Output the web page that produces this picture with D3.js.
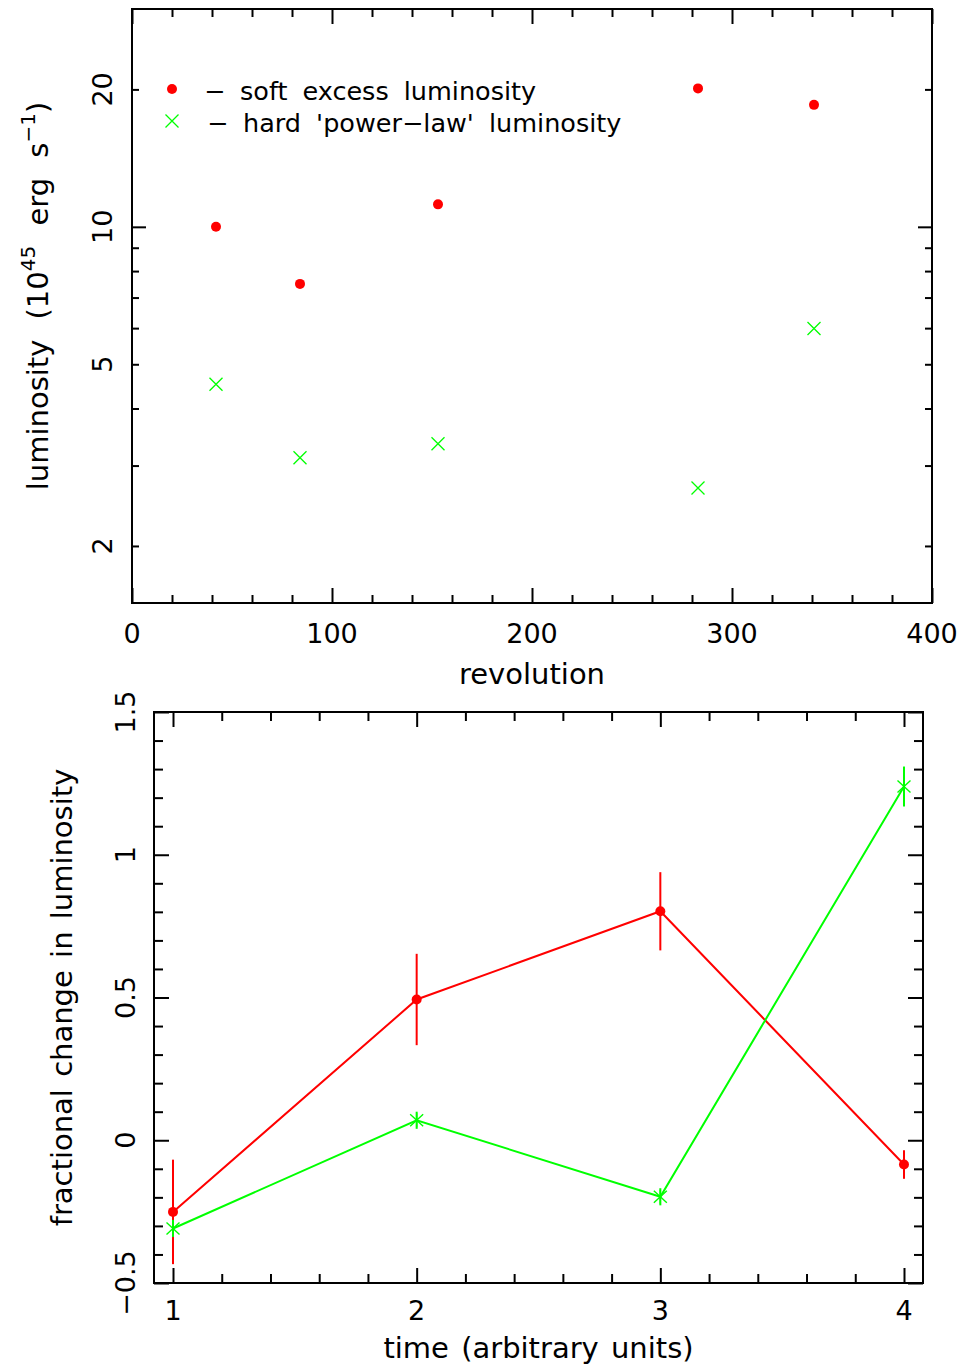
<!DOCTYPE html>
<html>
<head>
<meta charset="utf-8">
<script src="https://cdn.jsdelivr.net/npm/d3@7/dist/d3.min.js"></script>
<style>
  body { margin: 0; background: #fff; }
  svg { display: block; }
  text { font-family: "DejaVu Sans", sans-serif; font-size: 27px; fill: #000; }
  text.title { font-size: 29px; word-spacing: 3px; }
  text.legend { font-size: 25.5px; word-spacing: 7px; }
</style>
</head>
<body>
<svg id="chart" width="967" height="1372"></svg>
<script>
// ---- upper panel: luminosity against revolution ----
const revolutions = [42, 84, 153, 283, 341];
const softLum = [10.0, 7.5, 11.2, 20.1, 18.5];   // 10^45 erg/s
const hardLum = [4.52, 3.12, 3.35, 2.68, 5.99];  // 10^45 erg/s
const revTicks = [0, 100, 200, 300, 400];
const revMinor = d3.range(20, 400, 20).filter(v => v % 100 !== 0);
const lumLabelTicks = [2, 5, 10, 20];
const lumMajor = [10];
const lumMinor = [2, 3, 4, 5, 6, 7, 8, 9, 20];
const legendLabels = ["soft excess luminosity", "hard 'power\u2212law' luminosity"];

// ---- lower panel: fractional change against time ----
const times = [1, 2, 3, 4];
const softChange = [-0.251, 0.493, 0.802, -0.085];
const softErr = [0.183, 0.160, 0.137, 0.050];
const hardChange = [-0.309, 0.070, -0.198, 1.239];
const hardErr = [0.030, 0.030, 0.030, 0.070];
const timeTicks = [1, 2, 3, 4];
const timeMinor = [1.2, 1.4, 1.6, 1.8, 2.2, 2.4, 2.6, 2.8, 3.2, 3.4, 3.6, 3.8];
const fracTicks = [-0.5, 0, 0.5, 1, 1.5];
const fracMinor = d3.range(-4, 15).map(v => v / 10).filter(v => Math.abs(v * 2 - Math.round(v * 2)) > 1e-6);

const RED = "#ff0000";
const GREEN = "#00ff00";

const svg = d3.select("#chart");

// inward-pointing tick marks on one side of a frame
function tickMarks(g, axisFn, scale, values, len, transform) {
  g.append("g")
    .attr("transform", transform)
    .call(axisFn(scale).tickValues(values).tickSize(-len).tickFormat(""))
    .call(a => a.select(".domain").remove())
    .selectAll("line").attr("stroke", "#000").attr("stroke-width", 2);
}

function frame(g, x0, y0, x1, y1) {
  g.append("rect")
    .attr("x", x0).attr("y", y0)
    .attr("width", x1 - x0).attr("height", y1 - y0)
    .attr("fill", "none").attr("stroke", "#000").attr("stroke-width", 2);
}

function crossPath(s) {
  return `M${-s},${-s}L${s},${s}M${-s},${s}L${s},${-s}`;
}
function asteriskPath() {
  return "M0,-7L0,7M-6.5,-6L6.5,6M-6.5,6L6.5,-6";
}

// ================= upper panel =================
{
  const L = 132, R = 932, T = 9, B = 603;
  const x = d3.scaleLinear().domain([0, 400]).range([L, R]);
  const y = d3.scaleLog().domain([1.5, 30]).range([B, T]);
  const g = svg.append("g");

  tickMarks(g, d3.axisBottom, x, revTicks, 15, `translate(0,${B})`);
  tickMarks(g, d3.axisBottom, x, revMinor, 8, `translate(0,${B})`);
  tickMarks(g, d3.axisTop, x, revTicks, 15, `translate(0,${T})`);
  tickMarks(g, d3.axisTop, x, revMinor, 8, `translate(0,${T})`);
  tickMarks(g, d3.axisLeft, y, lumMajor, 14, `translate(${L},0)`);
  tickMarks(g, d3.axisLeft, y, lumMinor, 7, `translate(${L},0)`);
  tickMarks(g, d3.axisRight, y, lumMajor, 14, `translate(${R},0)`);
  tickMarks(g, d3.axisRight, y, lumMinor, 7, `translate(${R},0)`);
  frame(g, L, T, R, B);

  g.selectAll(".xl").data(revTicks).join("text")
    .attr("x", d => x(d)).attr("y", 643)
    .attr("text-anchor", "middle").text(d => d);
  g.selectAll(".yl").data(lumLabelTicks).join("text")
    .attr("transform", d => `translate(112,${y(d)}) rotate(-90)`)
    .attr("text-anchor", "middle").text(d => d);

  g.append("text").attr("class", "title")
    .attr("x", (L + R) / 2).attr("y", 684)
    .attr("text-anchor", "middle").text("revolution");

  const yt = g.append("text").attr("class", "title")
    .style("word-spacing", "11px")
    .attr("transform", `translate(48,${(T + B) / 2 - 10}) rotate(-90)`)
    .attr("text-anchor", "middle");
  yt.append("tspan").text("luminosity (10");
  yt.append("tspan").attr("dy", -13).style("font-size", "20px").text("45");
  yt.append("tspan").attr("dy", 13).text(" erg s");
  yt.append("tspan").attr("dy", -13).style("font-size", "20px").text("\u22121");
  yt.append("tspan").attr("dy", 13).text(")");

  // data
  g.selectAll(".soft").data(revolutions).join("circle")
    .attr("cx", d => x(d)).attr("cy", (d, i) => y(softLum[i]))
    .attr("r", 5).attr("fill", RED);
  g.selectAll(".hard").data(revolutions).join("path")
    .attr("transform", (d, i) => `translate(${x(d)},${y(hardLum[i])})`)
    .attr("d", crossPath(6.5)).attr("stroke", GREEN).attr("stroke-width", 1.3).attr("fill", "none");

  // legend
  const lg = g.append("g");
  lg.append("circle").attr("cx", 172).attr("cy", 89).attr("r", 5).attr("fill", RED);
  lg.append("path").attr("transform", "translate(172,121)").attr("d", crossPath(6.5))
    .attr("stroke", GREEN).attr("stroke-width", 1.3).attr("fill", "none");
  legendLabels.forEach((lab, i) => {
    const by = 100 + i * 32;
    lg.append("text").attr("class", "legend").attr("x", 204 + i * 3).attr("y", by).text("\u2212");
    lg.append("text").attr("class", "legend").attr("x", 240 + i * 3).attr("y", by).text(lab);
  });
}

// ================= lower panel =================
{
  const L = 154, R = 923, T = 712, B = 1283;
  const x = d3.scaleLinear().domain([0.922, 4.078]).range([L, R]);
  const y = d3.scaleLinear().domain([-0.5, 1.5]).range([B, T]);
  const g = svg.append("g");

  tickMarks(g, d3.axisBottom, x, timeTicks, 15, `translate(0,${B})`);
  tickMarks(g, d3.axisBottom, x, timeMinor, 9, `translate(0,${B})`);
  tickMarks(g, d3.axisTop, x, timeTicks, 15, `translate(0,${T})`);
  tickMarks(g, d3.axisTop, x, timeMinor, 9, `translate(0,${T})`);
  tickMarks(g, d3.axisLeft, y, fracTicks, 15, `translate(${L},0)`);
  tickMarks(g, d3.axisLeft, y, fracMinor, 9, `translate(${L},0)`);
  tickMarks(g, d3.axisRight, y, fracTicks, 15, `translate(${R},0)`);
  tickMarks(g, d3.axisRight, y, fracMinor, 9, `translate(${R},0)`);
  frame(g, L, T, R, B);

  g.selectAll(".xl").data(timeTicks).join("text")
    .attr("x", d => x(d)).attr("y", 1320)
    .attr("text-anchor", "middle").text(d => d);
  g.selectAll(".yl").data(fracTicks).join("text")
    .attr("transform", d => `translate(135,${y(d)}) rotate(-90)`)
    .attr("text-anchor", "middle")
    .text(d => d < 0 ? "\u2212" + Math.abs(d) : String(d));

  g.append("text").attr("class", "title")
    .attr("x", (L + R) / 2).attr("y", 1358)
    .attr("text-anchor", "middle").text("time (arbitrary units)");
  g.append("text").attr("class", "title")
    .attr("transform", `translate(72,${(T + B) / 2}) rotate(-90)`)
    .attr("text-anchor", "middle").text("fractional change in luminosity");

  const line = d3.line().x(d => x(d[0])).y(d => y(d[1]));
  const softPts = times.map((t, i) => [t, softChange[i]]);
  const hardPts = times.map((t, i) => [t, hardChange[i]]);

  // error bars
  g.selectAll(".serr").data(times).join("line")
    .attr("x1", d => x(d)).attr("x2", d => x(d))
    .attr("y1", (d, i) => y(softChange[i] - softErr[i]))
    .attr("y2", (d, i) => y(softChange[i] + softErr[i]))
    .attr("stroke", RED).attr("stroke-width", 2);
  g.selectAll(".herr").data(times).join("line")
    .attr("x1", d => x(d)).attr("x2", d => x(d))
    .attr("y1", (d, i) => y(hardChange[i] - hardErr[i]))
    .attr("y2", (d, i) => y(hardChange[i] + hardErr[i]))
    .attr("stroke", GREEN).attr("stroke-width", 2);

  g.append("path").attr("d", line(softPts)).attr("fill", "none")
    .attr("stroke", RED).attr("stroke-width", 2);
  g.append("path").attr("d", line(hardPts)).attr("fill", "none")
    .attr("stroke", GREEN).attr("stroke-width", 2);

  g.selectAll(".sdot").data(softPts).join("circle")
    .attr("cx", d => x(d[0])).attr("cy", d => y(d[1]))
    .attr("r", 5).attr("fill", RED);
  g.selectAll(".hast").data(hardPts).join("path")
    .attr("transform", d => `translate(${x(d[0])},${y(d[1])})`)
    .attr("d", asteriskPath()).attr("stroke", GREEN).attr("stroke-width", 1.4).attr("fill", "none");
}
</script>
</body>
</html>
